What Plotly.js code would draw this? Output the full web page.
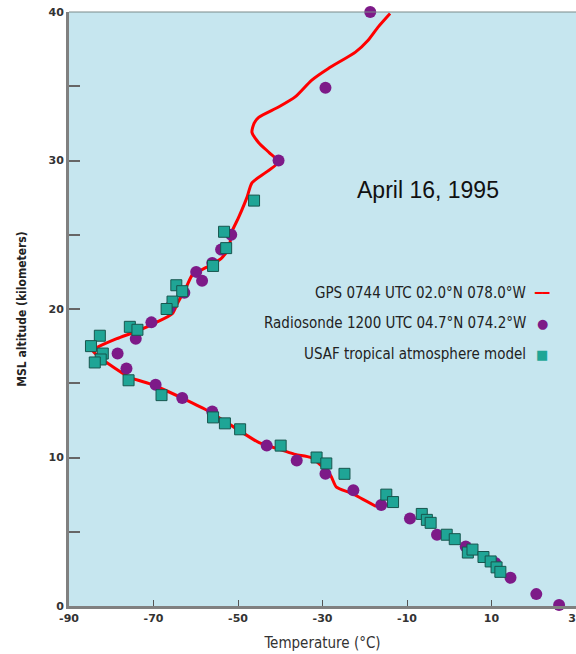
<!DOCTYPE html>
<html>
<head>
<meta charset="utf-8">
<script src="https://cdn.plot.ly/plotly-3.0.1.min.js"></script>
<style>html,body{margin:0;padding:0;background:#fff;}#chart{width:576px;height:654px;}</style>
</head>
<body>
<div id="chart"></div>
<script>
// GPS 0744 UTC profile (temperature °C, altitude km)
const gpsTemp = [-17.3, -23.2, -26.7, -28.1, -30.5, -32.8, -36.4, -39.6, -45.0, -56.8, -63.2, -70.2, -75.6, -81.1, -83.4, -84.4, -83.4, -78.7, -74.0, -69.3, -65.5, -64.3, -62.2, -60.8, -57.5, -54.0, -52.1, -51.6, -49.8, -47.9, -46.7, -43.4, -40.4, -42.5, -45.1, -46.7, -46.2, -45.1, -40.4, -36.4, -32.6, -28.6, -22.2, -19.2, -16.8, -14.0];
const gpsAlt  = [6.7, 7.6, 8.0, 8.8, 9.5, 10.0, 10.2, 10.5, 11.0, 13.1, 14.0, 14.9, 15.4, 16.4, 16.9, 17.2, 17.4, 18.0, 18.5, 19.1, 19.7, 20.4, 21.5, 22.3, 22.8, 23.4, 24.1, 25.1, 26.2, 27.5, 28.5, 29.2, 29.9, 30.5, 31.2, 31.9, 32.5, 32.9, 33.6, 34.3, 35.4, 36.2, 37.3, 38.1, 39.0, 39.9];

// Radiosonde 1200 UTC
const sondeTemp = [-18.7, -29.3, -40.4, -51.6, -54.0, -56.1, -59.9, -58.5, -62.7, -66.2, -70.5, -74.2, -78.5, -76.4, -69.5, -63.2, -56.1, -43.2, -36.1, -29.3, -22.7, -16.1, -9.3, -2.9, 3.9, 10.9, 14.5, 20.6, 26.0];
const sondeAlt  = [40.0, 34.9, 30.0, 25.0, 24.0, 23.1, 22.5, 21.9, 21.1, 20.1, 19.1, 18.0, 17.0, 16.0, 14.9, 14.0, 13.1, 10.8, 9.8, 8.9, 7.8, 6.8, 5.9, 4.8, 4.0, 2.9, 1.9, 0.8, 0.07];

// USAF tropical atmosphere model
const usafTemp = [-46.2, -53.3, -52.8, -55.9, -64.6, -63.2, -65.5, -66.9, -75.6, -73.8, -82.7, -84.8, -82.0, -82.5, -83.9, -75.9, -68.1, -55.9, -53.1, -49.5, -39.9, -31.4, -29.1, -24.8, -14.9, -13.3, -6.5, -5.3, -4.4, -0.6, 1.3, 4.4, 5.5, 8.1, 9.8, 11.2, 12.1];
const usafAlt  = [27.3, 25.2, 24.1, 22.9, 21.6, 21.2, 20.5, 20.0, 18.8, 18.6, 18.2, 17.5, 17.0, 16.6, 16.4, 15.2, 14.2, 12.7, 12.3, 11.9, 10.8, 10.0, 9.6, 8.9, 7.5, 7.0, 6.2, 5.8, 5.6, 4.8, 4.5, 3.6, 3.8, 3.3, 3.0, 2.6, 2.3];

const xTicks = [-90, -70, -50, -30, -10, 10, 30];
const yTicks = [0, 10, 20, 30, 40];

const seriesNames = ['GPS 0744 UTC 02.0°N 078.0°W', 'Radiosonde 1200 UTC 04.7°N 074.2°W', 'USAF tropical atmosphere model'];
const dateLabel = 'April 16, 1995';

const RED = '#ff0000', PURPLE = '#7d1a88', TEAL = '#1fa596', TEAL_EDGE = '#17564e';

const traces = [
  {x: gpsTemp, y: gpsAlt, type: 'scatter', mode: 'lines', name: seriesNames[0],
   line: {color: RED, width: 3, shape: 'spline', smoothing: 0.6}, cliponaxis: false},
  {x: sondeTemp, y: sondeAlt, type: 'scatter', mode: 'markers', name: seriesNames[1],
   marker: {symbol: 'circle', size: 12, color: PURPLE, line: {width: 0}}, cliponaxis: false},
  {x: usafTemp, y: usafAlt, type: 'scatter', mode: 'markers', name: seriesNames[2],
   marker: {symbol: 'square', size: 11, color: TEAL, line: {width: 1, color: TEAL_EDGE}}, cliponaxis: false}
];

const legFont = {family: '"Liberation Sans Narrow", "DejaVu Sans Condensed", "Liberation Sans", sans-serif', size: 15, color: '#222'};
const legY = [0.527, 0.476, 0.424];
const keys = [
  '<span style="color:' + RED + '">━━</span>',
  '<span style="color:' + PURPLE + '">●</span>',
  '<span style="color:' + TEAL + '">■</span>'
];
const annotations = [
  {xref: 'paper', yref: 'paper', x: 0.708, y: 0.700, text: dateLabel, showarrow: false,
   xanchor: 'center', yanchor: 'middle', font: {family: '"Liberation Sans", Arial, sans-serif', size: 23, color: '#111'}}
];
seriesNames.forEach((n, i) => {
  annotations.push({xref: 'paper', yref: 'paper', x: 0.905, y: legY[i], text: n, showarrow: false,
    xanchor: 'right', yanchor: 'middle', font: legFont});
  annotations.push({xref: 'paper', yref: 'paper', x: 0.933, y: legY[i], text: keys[i], showarrow: false,
    xanchor: 'center', yanchor: 'middle', font: {family: '"DejaVu Sans", sans-serif', size: i === 0 ? 12 : 13}});
});

const layout = {
  width: 576, height: 654,
  margin: {l: 69, r: 0, t: 12, b: 48, pad: 0},
  paper_bgcolor: '#ffffff',
  plot_bgcolor: '#c6e6ef',
  showlegend: false,
  xaxis: {
    range: [-90, 30], tickvals: xTicks, ticktext: xTicks.map(String),
    ticks: 'inside', ticklen: 6, tickwidth: 1, tickcolor: '#555',
    showline: true, linecolor: '#808080', linewidth: 3,
    showgrid: false, zeroline: false, ticklabeloverflow: 'allow',
    tickfont: {family: '"DejaVu Sans", sans-serif', size: 11, color: '#333', weight: 'bold'},
    title: {text: 'Temperature (°C)', standoff: 14,
            font: {family: '"Liberation Sans Narrow", "DejaVu Sans Condensed", sans-serif', size: 15, color: '#333'}}
  },
  yaxis: {
    range: [0, 40], tickvals: yTicks, ticktext: yTicks.map(String),
    ticks: 'inside', ticklen: 11, tickwidth: 2, tickcolor: '#666',
    minor: {dtick: 5, tick0: 0, ticks: 'inside', ticklen: 11, tickwidth: 2, tickcolor: '#666', showgrid: false},
    showline: true, linecolor: '#808080', linewidth: 3,
    showgrid: false, zeroline: false,
    tickfont: {family: '"DejaVu Sans", sans-serif', size: 11, color: '#333', weight: 'bold'},
    title: {text: 'MSL altitude (kilometers)', standoff: 20,
            font: {family: '"DejaVu Sans Condensed", "DejaVu Sans", sans-serif', size: 12, color: '#222', weight: 'bold'}}
  },
  shapes: [
    {type: 'line', xref: 'paper', yref: 'paper', x0: 0, x1: 1, y0: 1, y1: 1, line: {color: '#7a8a8a', width: 1}}
  ],
  annotations: annotations
};

Plotly.newPlot('chart', traces, layout, {displayModeBar: false, staticPlot: true});
</script>
</body>
</html>
